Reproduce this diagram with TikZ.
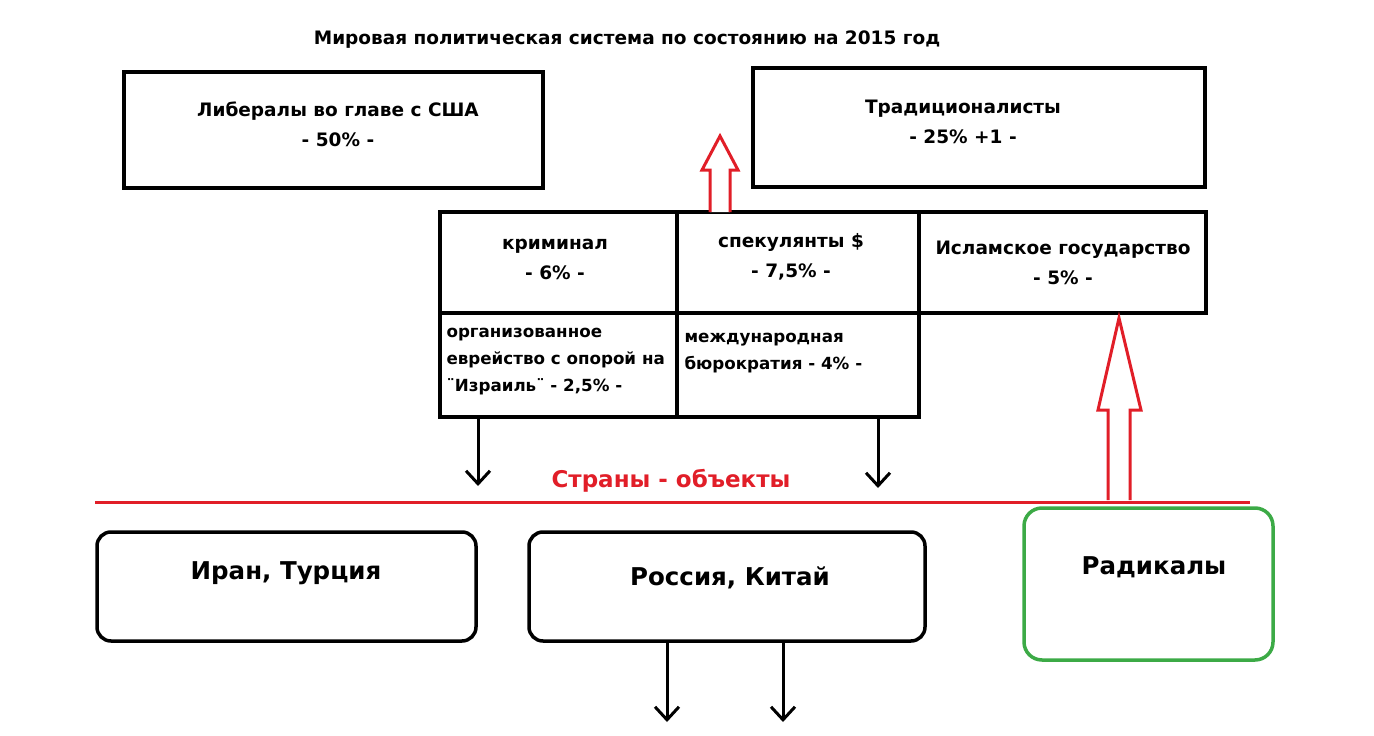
\documentclass[tikz,border=0pt]{standalone}
\usepackage{fontspec}
\setmainfont{DejaVu Sans}
\usetikzlibrary{arrows.meta}
\definecolor{rd}{RGB}{225,30,40}
\definecolor{gr}{RGB}{60,170,70}
\begin{document}
\begin{tikzpicture}[x=1pt,y=-1pt,
  bx/.style={draw=black,line width=3.5pt},
  t/.style={font=\bfseries\fontsize{18.5}{30}\selectfont,align=center},
  tl/.style={font=\bfseries\fontsize{16.7}{27}\selectfont,align=left,anchor=west},
  big/.style={font=\bfseries\fontsize{24.5}{28}\selectfont},
  darr/.style={line width=3pt,-{Straight Barb[length=13pt,width=24pt,line width=3pt]}},
  hol/.style={draw=rd,line width=3pt,fill=white}]
\useasboundingbox (0,0) rectangle (1374,736);
\node[t] (title) at (627,40) {Мировая политическая система по состоянию на 2015 год};
\draw[bx] (124,72) rectangle (543,188);
\node[t] (lib) at (338,124) {Либералы во главе с США\\- 50\% -};
\draw[bx] (753,68) rectangle (1205,187);
\node[t] (trad) at (963,122) {Традиционалисты\\- 25\% +1 -};
\draw[bx] (440,212) rectangle (919,417);
\draw[bx] (677,212) -- (677,417);
\draw[bx] (440,313) -- (919,313);
\draw[bx] (919,212) rectangle (1206,313);
\node[t] (crim) at (555,259) {криминал\\- 6\% -};
\node[t] (spec) at (791,257) {спекулянты \$\\- 7,5\% -};
\node[t] (is) at (1063,263) {Исламское государство\\- 5\% -};
\node[tl] (jew) at (443,362) {организованное\\еврейство с опорой на\\¨Израиль¨ - 2,5\% -};
\node[tl] (bur) at (681,353) {международная\\бюрократия - 4\% -};
\draw[hol] (710,212) -- (710,170) -- (702,170) -- (720,136) -- (738,170) -- (730,170) -- (730,212);
\coordinate (a1) at (478,417); \coordinate (a1e) at (478,486);
\coordinate (a2) at (878,417); \coordinate (a2e) at (878,488);
\draw[darr] (a1) -- (a1e);
\draw[darr] (a2) -- (a2e);
\draw[rd,line width=3pt] (95,502) -- (1250,502);
\node[text=rd,font=\bfseries\fontsize{23}{26}\selectfont] (obj) at (671,481) {Страны - объекты};
\draw[bx,rounded corners=14pt] (97,532) rectangle (476,641);
\node[big] (ir) at (286,573) {Иран, Турция};
\draw[bx,rounded corners=14pt] (529,532) rectangle (925,641);
\node[big] (ru) at (730,578) {Россия, Китай};
\draw[draw=gr,line width=3.5pt,rounded corners=18pt] (1024,508) rectangle (1273,660);
\node[big] (rad) at (1154,567) {Радикалы};
\draw[hol] (1108,500) -- (1108,410) -- (1098,410) -- (1119,318) -- (1141,410) -- (1130,410) -- (1130,500);
\coordinate (b1) at (667,641); \coordinate (b1e) at (667,722);
\coordinate (b2) at (783,641); \coordinate (b2e) at (783,722);
\draw[darr] (b1) -- (b1e);
\draw[darr] (b2) -- (b2e);
\end{tikzpicture}
\end{document}
